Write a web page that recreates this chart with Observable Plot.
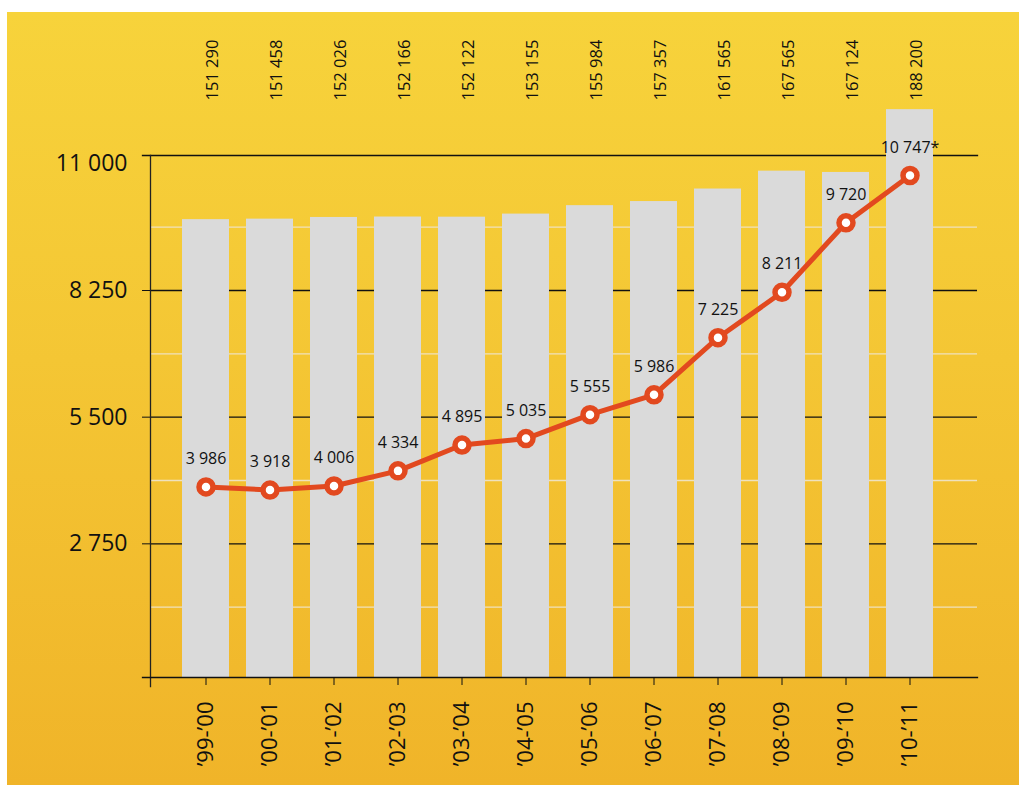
<!DOCTYPE html>
<html>
<head>
<meta charset="utf-8">
<script src="https://cdn.jsdelivr.net/npm/d3@7"></script>
<script src="https://cdn.jsdelivr.net/npm/@observablehq/plot@0.6"></script>
<style>
  html, body { margin: 0; padding: 0; background: #ffffff; }
  #wrap { position: relative; width: 1019px; height: 785px; overflow: hidden; }
  #bg { position: absolute; left: 7px; top: 12px; right: 0; bottom: 0;
        background: linear-gradient(to bottom, #f7d33b 0%, #f4c634 45%, #f0b429 100%); }
  #chart { position: absolute; left: 0; top: 0; }
</style>
</head>
<body>
<div id="wrap"><div id="bg"></div><div id="chart"></div></div>
<script>
// ---- data ----
const seasons = ["’99-’00","’00-’01","’01-’02","’02-’03","’03-’04","’04-’05","’05-’06","’06-’07","’07-’08","’08-’09","’09-’10","’10-’11"];
const barValues = [151290, 151458, 152026, 152166, 152122, 153155, 155984, 157357, 161565, 167565, 167124, 188200];
const lineValues = [3986, 3918, 4006, 4334, 4895, 5035, 5555, 5986, 7225, 8211, 9720, 10747];
const lineNotes = ["", "", "", "", "", "", "", "", "", "", "", "*"];
const yTicks = [2750, 5500, 8250];
const yTopTick = [11000];
const minorGrid = [1375, 4125, 6875, 9625];

// ---- helpers ----
const loc = d3.formatLocale({decimal: ",", thousands: " ", grouping: [3], currency: ["", ""]});
const fmt = loc.format(",d");
const yDomain = [-152, 11181];
const barToY = 0.0647; // secondary (bar) scale expressed in line units

const rows = seasons.map((s, i) => ({
  season: s, bar: barValues[i], value: lineValues[i], note: lineNotes[i]
}));

const lineColor = "#e2491f";

const plot = Plot.plot({
  width: 1019,
  height: 785,
  marginLeft: 150,
  marginRight: 42,
  marginTop: 155,
  marginBottom: 108,
  style: {fontFamily: "'Open Sans', 'Noto Sans', sans-serif", background: "transparent", overflow: "visible", color: "#111"},
  x: {type: "band", domain: seasons, paddingInner: 0.268, paddingOuter: 0.568, align: 0.42},
  y: {domain: yDomain},
  marks: [
    Plot.ruleY(minorGrid, {stroke: "#efe1bd", strokeWidth: 1.4}),
    Plot.ruleY(yTicks, {stroke: "#111", strokeWidth: 1.3}),
    Plot.frame({anchor: "top", insetLeft: -8, stroke: "#111", strokeWidth: 1.3}),
    Plot.barY(rows, {x: "season", y1: () => yDomain[0], y2: d => d.bar * barToY, fill: "#dadada"}),
    Plot.frame({anchor: "left", insetBottom: -9, stroke: "#222", strokeWidth: 1.3}),
    Plot.frame({anchor: "bottom", insetLeft: -8, stroke: "#111", strokeWidth: 1.3}),
    Plot.axisY({ticks: yTicks, tickSize: 8, tickPadding: 15, fontSize: 23, tickFormat: fmt, label: null, stroke: "#111"}),
    Plot.axisY({ticks: yTopTick, tickSize: 0, tickPadding: 23, fontSize: 23, tickFormat: fmt, label: null}),
    Plot.axisX({tickRotate: -90, tickSize: 8, tickPadding: 16, fontSize: 22, label: null, stroke: "#111"}),
    Plot.text(rows, {x: "season", text: d => fmt(d.bar), frameAnchor: "top", rotate: -90, textAnchor: "start", dy: -55, fontSize: 16.5, fill: "#111"}),
    Plot.line(rows, {x: "season", y: "value", stroke: lineColor, strokeWidth: 5}),
    Plot.dot(rows, {x: "season", y: "value", r: 7, stroke: lineColor, strokeWidth: 5.5, fill: "white"}),
    Plot.text(rows, {x: "season", y: "value", text: d => fmt(d.value) + d.note, dy: -28, fontSize: 16, fill: "#111"})
  ]
});
document.getElementById("chart").appendChild(plot);
</script>
</body>
</html>
